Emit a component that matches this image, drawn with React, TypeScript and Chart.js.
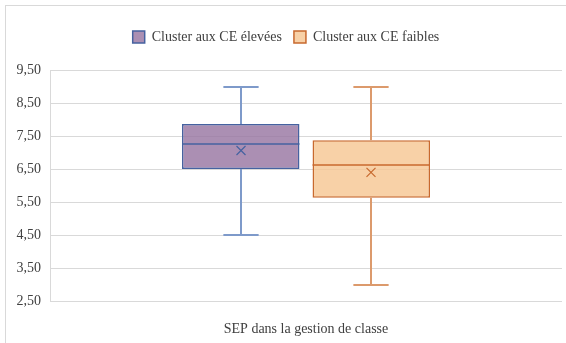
import React, { useEffect, useRef } from "react";
import { Chart, registerables } from "chart.js";

Chart.register(...registerables);

const categories = ["SEP dans la gestion de classe"];
const seriesNames = ["Cluster aux CE élevées", "Cluster aux CE faibles"];
const minValues = [4.5, 3.0];
const q1Values = [6.5, 5.63];
const medianValues = [7.26, 6.62];
const q3Values = [7.86, 7.37];
const maxValues = [9.0, 9.0];
const meanValues = [7.06, 6.4];
const fillColors = ["rgba(150,115,160,0.8)", "rgba(246,197,145,0.8)"];
const lineColors = ["#4662A0", "#C8692E"];
const whiskerColors = ["#7E9ACA", "#DC9A6C"];

const FONT = "'Liberation Serif', 'Times New Roman', serif";

const legendSpace = {
  id: "legendSpace",
  afterInit(chart: any) {
    const lg = chart.legend;
    if (lg && !lg.__patched) {
      const orig = lg.fit.bind(lg);
      lg.fit = function () {
        orig();
        this.height += 16;
      };
      lg.__patched = true;
    }
  },
};

const boxExtras = {
  id: "boxExtras",
  afterDatasetsDraw(chart: any) {
    const ctx = chart.ctx;
    const ys = chart.scales.y;
    chart.data.datasets.forEach((ds: any, i: number) => {
      const meta = chart.getDatasetMeta(i);
      meta.data.forEach((bar: any) => {
        const { x, width } = bar.getProps(["x", "width"], true);
        const cx = Math.round(x);
        const yMin = ys.getPixelForValue(minValues[i]);
        const yQ1 = ys.getPixelForValue(q1Values[i]);
        const yMed = ys.getPixelForValue(medianValues[i]);
        const yQ3 = ys.getPixelForValue(q3Values[i]);
        const yMax = ys.getPixelForValue(maxValues[i]);
        const yMean = ys.getPixelForValue(meanValues[i]);
        const cap = width * 0.3;
        ctx.save();
        ctx.strokeStyle = whiskerColors[i];
        ctx.lineWidth = 2;
        ctx.beginPath();
        ctx.moveTo(cx, yQ3);
        ctx.lineTo(cx, yMax);
        ctx.moveTo(cx, yQ1);
        ctx.lineTo(cx, yMin);
        ctx.moveTo(cx - cap / 2, Math.round(yMax));
        ctx.lineTo(cx + cap / 2, Math.round(yMax));
        ctx.moveTo(cx - cap / 2, Math.round(yMin));
        ctx.lineTo(cx + cap / 2, Math.round(yMin));
        ctx.stroke();
        ctx.strokeStyle = lineColors[i];
        ctx.lineWidth = 1.5;
        ctx.beginPath();
        ctx.moveTo(x - width / 2, yMed);
        ctx.lineTo(x + width / 2, yMed);
        ctx.stroke();
        const s = 4.5;
        ctx.lineWidth = 1.2;
        ctx.beginPath();
        ctx.moveTo(cx - s, yMean - s);
        ctx.lineTo(cx + s, yMean + s);
        ctx.moveTo(cx + s, yMean - s);
        ctx.lineTo(cx - s, yMean + s);
        ctx.stroke();
        ctx.restore();
      });
    });
  },
};

export default function App() {
  const ref = useRef<HTMLCanvasElement>(null);
  useEffect(() => {
    document.body.style.margin = "0";
    document.body.style.overflow = "hidden";
    const chart = new Chart(ref.current as HTMLCanvasElement, {
      type: "bar",
      data: {
        labels: categories,
        datasets: seriesNames.map((name, i) => ({
          label: name,
          data: [[q1Values[i], q3Values[i]]] as any,
          backgroundColor: fillColors[i],
          borderColor: lineColors[i],
          borderWidth: 1.5,
          borderSkipped: false,
          categoryPercentage: 0.51,
          barPercentage: 0.9,
        })),
      },
      options: {
        animation: false,
        responsive: false,
        layout: { padding: { left: 10, right: 4, top: 18, bottom: 0 } },
        plugins: {
          legend: {
            position: "top",
            labels: {
              boxWidth: 12,
              boxHeight: 12,
              color: "#404040",
              font: { family: FONT, size: 14 },
              padding: 12,
            },
          },
          tooltip: { enabled: false },
        },
        scales: {
          x: {
            grid: { display: false },
            border: { display: false },
            ticks: {
              color: "#404040",
              font: { family: FONT, size: 14 },
              padding: 12,
            },
            afterFit: (scale: any) => {
              scale.height = 42;
            },
          },
          y: {
            min: 2.5,
            max: 9.5,
            grid: { color: "#d9d9d9", drawTicks: false },
            border: { color: "#d9d9d9" },
            ticks: {
              stepSize: 1,
              padding: 9,
              color: "#404040",
              font: { family: FONT, size: 14 },
              callback: (v: any) => Number(v).toFixed(2).replace(".", ","),
            },
            afterFit: (scale: any) => {
              scale.width = 40;
            },
          },
        },
      },
      plugins: [legendSpace, boxExtras],
    });
    return () => chart.destroy();
  }, []);
  return (
    <div style={{ position: "fixed", left: 0, top: 0, width: 566, height: 343, overflow: "hidden", background: "#fff" }}>
      <div style={{ position: "absolute", left: 5, top: 5, width: 700, height: 500, borderLeft: "1px solid #d9d9d9", borderTop: "1px solid #d9d9d9" }} />
      <canvas ref={ref} width={566} height={343} style={{ position: "absolute", left: 0, top: 0, display: "block" }} />
    </div>
  );
}
